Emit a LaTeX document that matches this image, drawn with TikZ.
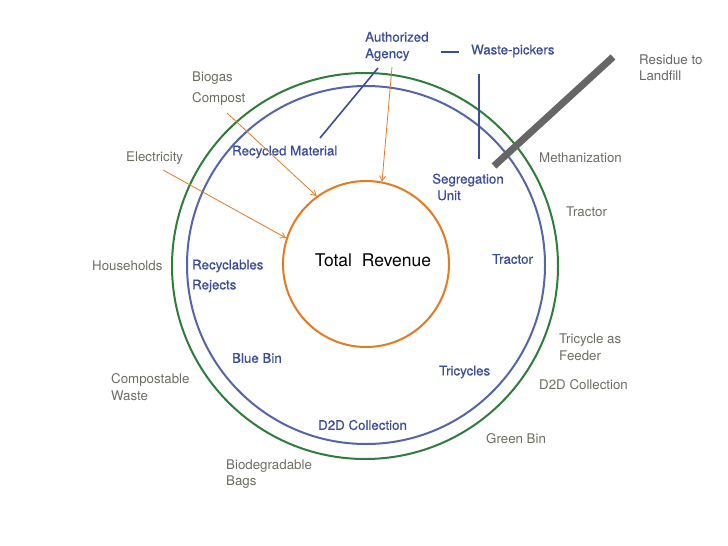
\documentclass[tikz,border=0pt]{standalone}
\usepackage{fontspec}
\setmainfont{TeX Gyre Heros}
\newfontfamily\mediumfont[FakeBold=0.5]{TeX Gyre Heros}
\usetikzlibrary{arrows.meta,positioning}
\definecolor{ringgreen}{HTML}{2F7D3B}
\definecolor{ringblue}{HTML}{5565A9}
\definecolor{revorange}{HTML}{E37B22}
\definecolor{inkblue}{HTML}{3B4D96}
\definecolor{inkgray}{HTML}{6A6E62}
\definecolor{residue}{HTML}{666666}
\tikzset{
  ring/.style={circle,draw,line width=2pt,inner sep=0pt},
  outer/.style={font=\fontsize{13.3}{16.5}\selectfont,text=inkgray,anchor=west,inner sep=0pt,align=left},
  inner/.style={outer,font=\mediumfont\fontsize{13.3}{16.5}\selectfont,text=inkblue},
  arr/.style={-{Straight Barb[length=5pt,width=6pt]},draw=revorange,line width=0.8pt},
  bline/.style={draw=inkblue,line width=1.6pt},
}
\begin{document}
\begin{tikzpicture}[x=1pt,y=-1pt]
  \useasboundingbox (0,0) rectangle (728,546);
  \node[ring,draw=ringgreen,minimum size=386pt] (green) at (365,266) {};
  \node[ring,draw=ringblue,minimum size=358pt] (blue) at (366,265) {};
  \node[ring,draw=revorange,minimum size=166pt] (rev) at (366,264) {};
  \node[font=\fontsize{17.5}{20}\selectfont,inner sep=0pt] (total) at (373,260) {Total\ \ Revenue};
  % labels inside the rings
  \node[inner] (agency) at (365,46.5) {Authorized\\Agency};
  \node[inner] (pickers) at (471,51) {Waste-pickers};
  \node[inner] (recycled) at (232,152) {Recycled Material};
  \node[inner] (segregation) at (432,187) {Segregation\\\hspace{5pt}Unit};
  \node[inner] (tractorin) at (492,259) {Tractor};
  \node[inner] (recyclables) at (192,266) {Recyclables};
  \node[inner] (rejects) at (192,286) {Rejects};
  \node[inner] (bluebin) at (232,358) {Blue Bin};
  \node[inner] (tricycles) at (439,372) {Tricycles};
  \node[inner] (d2din) at (318,425) {D2D Collection};
  % labels outside
  \node[outer] (biogas) at (192,78) {Biogas};
  \node[outer] (compost) at (192,99) {Compost};
  \node[outer] (electricity) at (126,158) {Electricity};
  \node[outer] (methan) at (539,158) {Methanization};
  \node[outer] (tractorout) at (566,212) {Tractor};
  \node[outer] (households) at (92,266) {Households};
  \node[outer] (feeder) at (559,347) {Tricycle as\\Feeder};
  \node[outer] (d2dout) at (539,385) {D2D Collection};
  \node[outer] (compostable) at (111,387) {Compostable\\Waste};
  \node[outer] (greenbin) at (486,439) {Green Bin};
  \node[outer] (bags) at (226,474) {Biodegradable\\Bags};
  \node[outer,text=residue] (landfill) at (639,68) {Residue to\\Landfill};
  % connectors
  \coordinate (c1) at (227,113);
  \coordinate (c2) at (163,170);
  \coordinate (c3) at (392,67);
  \draw[arr] (c1) -- (rev.126);
  \draw[arr] (c2) -- (rev.162);
  \draw[arr] (c3) -- (rev.79);
  \coordinate (m1) at (320,138);
  \coordinate (m2) at (378,68);
  \draw[bline] (m1) -- (m2);
  \coordinate (p1) at (441,52);
  \coordinate (p2) at (459,52);
  \draw[bline] (p1) -- (p2);
  \coordinate (s1) at (479,74);
  \coordinate (s2) at (479,159);
  \draw[bline] (s1) -- (s2);
  \coordinate (l1) at (494,166);
  \coordinate (l2) at (613,57);
  \draw[residue,line width=7pt] (l1) -- (l2);
\end{tikzpicture}
\end{document}
